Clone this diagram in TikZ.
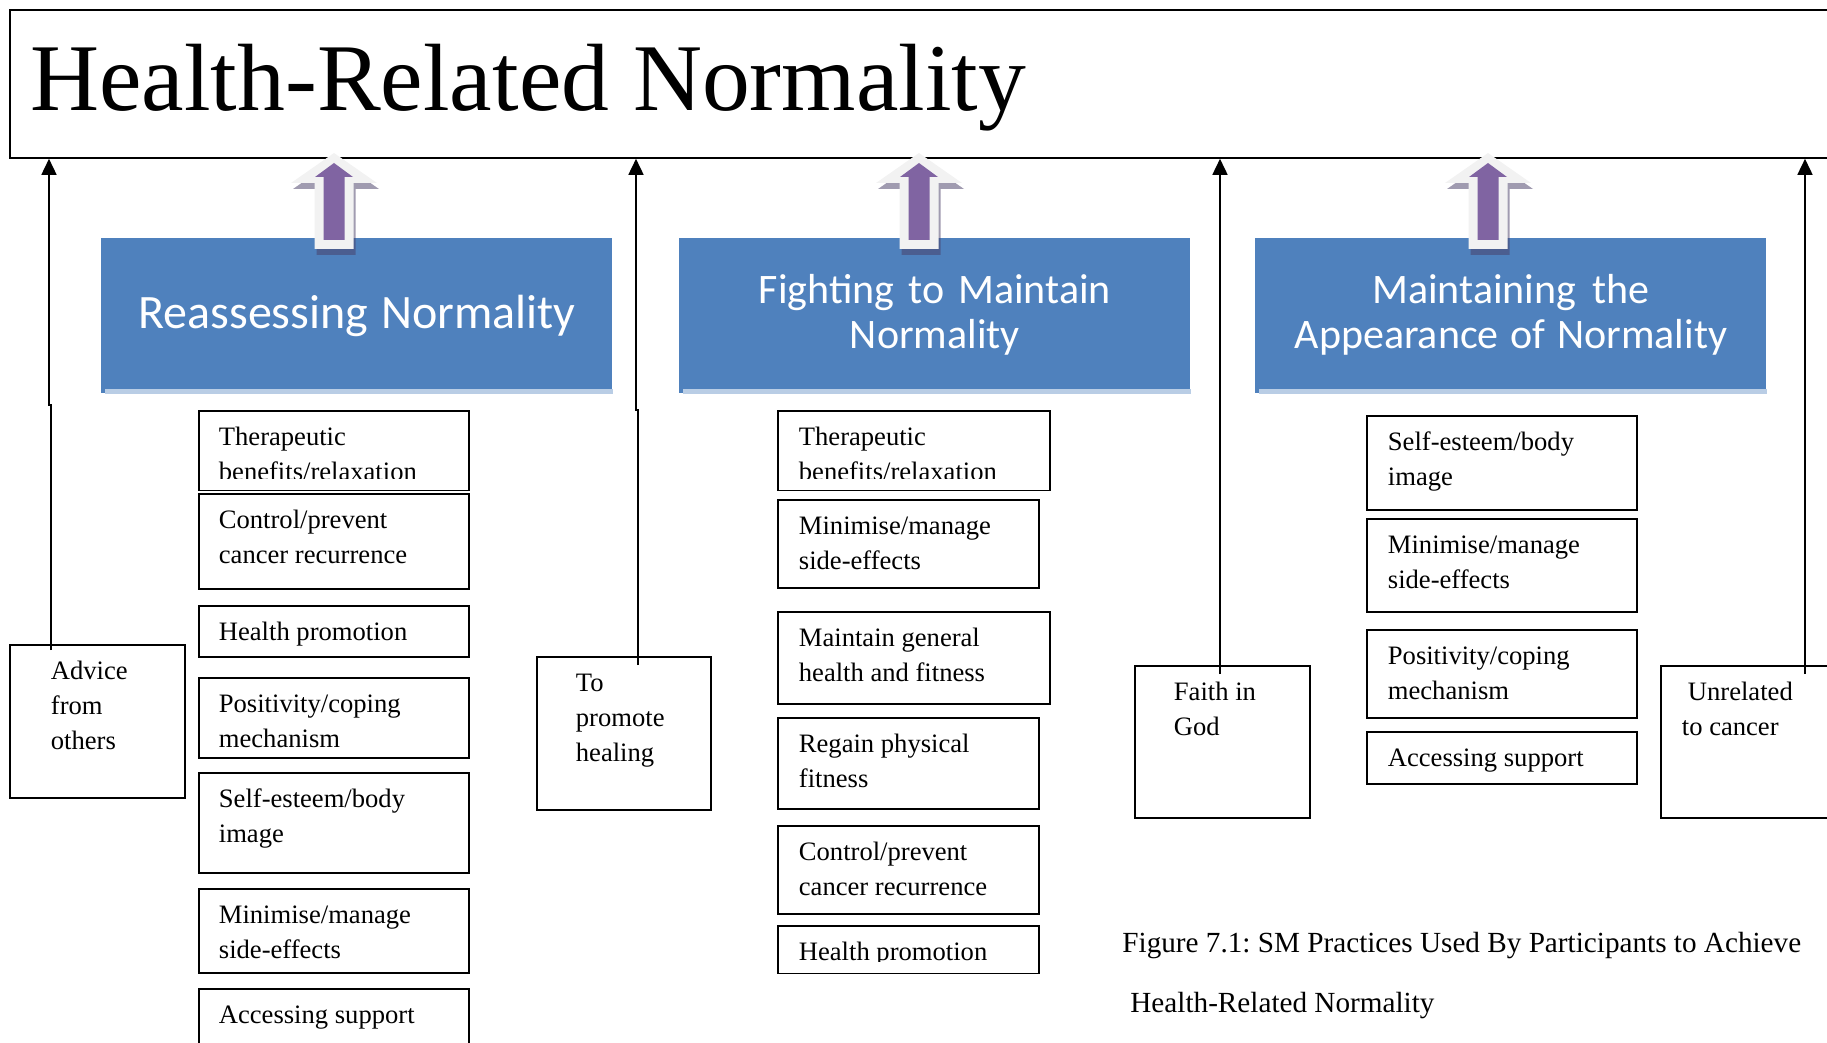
\documentclass[tikz,border=0pt]{standalone}
\usepackage{fontspec}
\setmainfont{Liberation Serif}
\newfontfamily\themefont{Carlito}
\usetikzlibrary{arrows.meta}
\frenchspacing
\definecolor{themeblue}{RGB}{79,129,189}
\definecolor{stripblue}{RGB}{185,205,229}
\definecolor{liftpurple}{RGB}{128,100,162}
\definecolor{liftrim}{RGB}{242,242,242}
\definecolor{liftshade}{RGB}{73,63,104}
\newcommand\itemfont{\fontsize{13.3}{17.3}\selectfont}
\tikzset{%
    plainspace/.style={execute at begin node={\spaceskip=0pt\relax\xspaceskip=0pt\relax}},
    tbox/.style={draw, line width=0.9pt, anchor=north west, inner xsep=10.5pt, inner ysep=0pt,
        text height=17.5pt, align=left, font=\itemfont, plainspace},
    theme/.style={fill=themeblue, text=white, anchor=north west, inner sep=0pt, align=center,
        text width=255.5pt, plainspace},
    conn/.style={line width=0.8pt, -{Triangle[length=8pt,width=7.5pt]}},
    liftarrow/.pic={
        \fill[liftshade, opacity=0.52] (2,159) -- (45,189) -- (21.5,189) -- (21.5,255) -- (-17.5,255) -- (-17.5,189) -- (-41,189) -- cycle;
        \fill[liftrim] (0,153) -- (43,183) -- (19.5,183) -- (19.5,249) -- (-19.5,249) -- (-19.5,183) -- (-43,183) -- cycle;
        \fill[liftpurple] (0,163) -- (19,177) -- (10.5,177) -- (10.5,240) -- (-10.5,240) -- (-10.5,177) -- (-19,177) -- cycle;
    }
}

\begin{document}
\begin{tikzpicture}[x=0.5pt, y=-0.5pt]
    \useasboundingbox (0,0) rectangle (1827,1043);

    \node[draw, line width=0.9pt, anchor=north west, inner xsep=10.3pt, inner ysep=0pt, text width=900pt,
        align=left, plainspace, text height=50.5pt, text depth=23.5pt, font=\fontsize{47.8}{50}\selectfont]
        (title) at (9,9) {Health-Related Normality};

    \node[theme, text height=45pt, text depth=32.5pt, font=\themefont\fontsize{24}{29}\selectfont]
        (reassess) at (101,238) {Reassessing Normality};
    \node[theme, text height=32.5pt, text depth=45pt, font=\themefont\fontsize{21}{22.5}\selectfont]
        (fight) at (679,238) {Fighting to Maintain\\Normality};
    \node[theme, text height=32.5pt, text depth=45pt, font=\themefont\fontsize{21}{22.5}\selectfont]
        (appear) at (1255,238) {Maintaining the\\Appearance of Normality};
    \foreach \t in {reassess,fight,appear}
        \fill[stripblue] ([xshift=2pt]\t.south west) rectangle ([yshift=2.5pt]\t.south east);

    \pic at (334,0) {liftarrow};
    \pic at (919,0) {liftarrow};
    \pic at (1488,0) {liftarrow};

    \node[tbox, inner xsep=10pt, text width=115pt, text depth=22pt] (c1a) at (198,410) {Therapeutic\\benefits/relaxation};
    \node[tbox, inner xsep=10pt, text width=115pt, text depth=30pt] (c1b) at (198,493) {Control/prevent\\cancer recurrence};
    \node[tbox, inner xsep=10pt, text width=115pt, text depth=8pt] (c1c) at (198,605) {Health promotion};
    \node[tbox, inner xsep=10pt, text width=115pt, text depth=22.5pt] (c1d) at (198,677) {Positivity/coping\\mechanism};
    \node[tbox, inner xsep=10pt, text width=115pt, text depth=32.5pt] (c1e) at (198,772) {Self-esteem/body\\image};
    \node[tbox, inner xsep=10pt, text width=115pt, text depth=24.5pt] (c1f) at (198,888) {Minimise/manage\\side-effects};
    \node[tbox, inner xsep=10pt, text width=115pt, text depth=22.5pt] (c1g) at (198,988) {Accessing support};

    \node[tbox, text width=115pt, text depth=22pt] (c2a) at (777,410) {Therapeutic\\benefits/relaxation};
    \node[tbox, text width=109.5pt, text depth=26.5pt] (c2b) at (777,499) {Minimise/manage\\side-effects};
    \node[tbox, text width=115pt, text depth=28.5pt] (c2c) at (777,611) {Maintain general\\health and fitness};
    \node[tbox, text width=109.5pt, text depth=28pt] (c2d) at (777,717) {Regain physical\\fitness};
    \node[tbox, text width=109.5pt, text depth=26.5pt] (c2e) at (777,825) {Control/prevent\\cancer recurrence};
    \node[tbox, text width=109.5pt, text depth=6pt] (c2f) at (777,925) {Health promotion};

    \node[tbox, text width=114pt, text depth=29.5pt] (c3a) at (1366,415) {Self-esteem/body\\image};
    \node[tbox, text width=114pt, text depth=29pt] (c3b) at (1366,518) {Minimise/manage\\side-effects};
    \node[tbox, text width=114pt, text depth=26.5pt] (c3c) at (1366,629) {Positivity/coping\\mechanism};
    \node[tbox, text width=114pt, text depth=8.5pt] (c3d) at (1366,731) {Accessing support};

    \fill[white] ([xshift=1pt,yshift=0.5pt]c1a.south west) rectangle ([xshift=-1pt,yshift=6pt]c1a.south east);
    \fill[white] ([xshift=1pt,yshift=0.5pt]c2a.south west) rectangle ([xshift=-1pt,yshift=6pt]c2a.south east);
    \fill[white] ([xshift=1pt,yshift=0.5pt]c2f.south west) rectangle ([xshift=-1pt,yshift=6pt]c2f.south east);

    \node[tbox, inner xsep=20.5pt, text width=46.5pt, text depth=59pt] (advice) at (9,644) {Advice\\from\\others};
    \node[tbox, inner xsep=19.5pt, text width=48pt, text depth=59pt] (healing) at (536,656) {To\\promote\\healing};
    \node[tbox, inner xsep=19.5pt, text width=48.5pt, text depth=58.5pt] (faith) at (1134,665) {Faith in\\God};
    \node[tbox, inner xsep=10.5pt, text width=79pt, text depth=58.5pt] (unrelated) at (1660,665) {\hspace*{3pt}Unrelated\\to cancer};

    \coordinate (j1a) at (51,650);
    \coordinate (j1b) at (51,405);
    \coordinate (j1c) at (49,405);
    \coordinate (j2a) at (638,665);
    \coordinate (j2b) at (638,410);
    \coordinate (j2c) at (636,410);
    \coordinate (j3) at (1220,674);
    \coordinate (j4) at (1805,674);

    \draw[conn] (j1a) -- (j1b) -- (j1c) -- (j1c |- title.south);
    \draw[conn] (j2a) -- (j2b) -- (j2c) -- (j2c |- title.south);
    \draw[conn] (j3) -- (j3 |- title.south);
    \draw[conn] (j4) -- (j4 |- title.south);

    \node[anchor=base west, inner sep=0pt, font=\fontsize{14.6}{18}\selectfont] (cap1) at (1122,952)
        {Figure 7.1: SM Practices Used By Participants to Achieve};
    \node[anchor=base west, inner sep=0pt, font=\fontsize{14.6}{18}\selectfont] (cap2) at (1130,1012)
        {Health-Related Normality};
\end{tikzpicture}
\end{document}
